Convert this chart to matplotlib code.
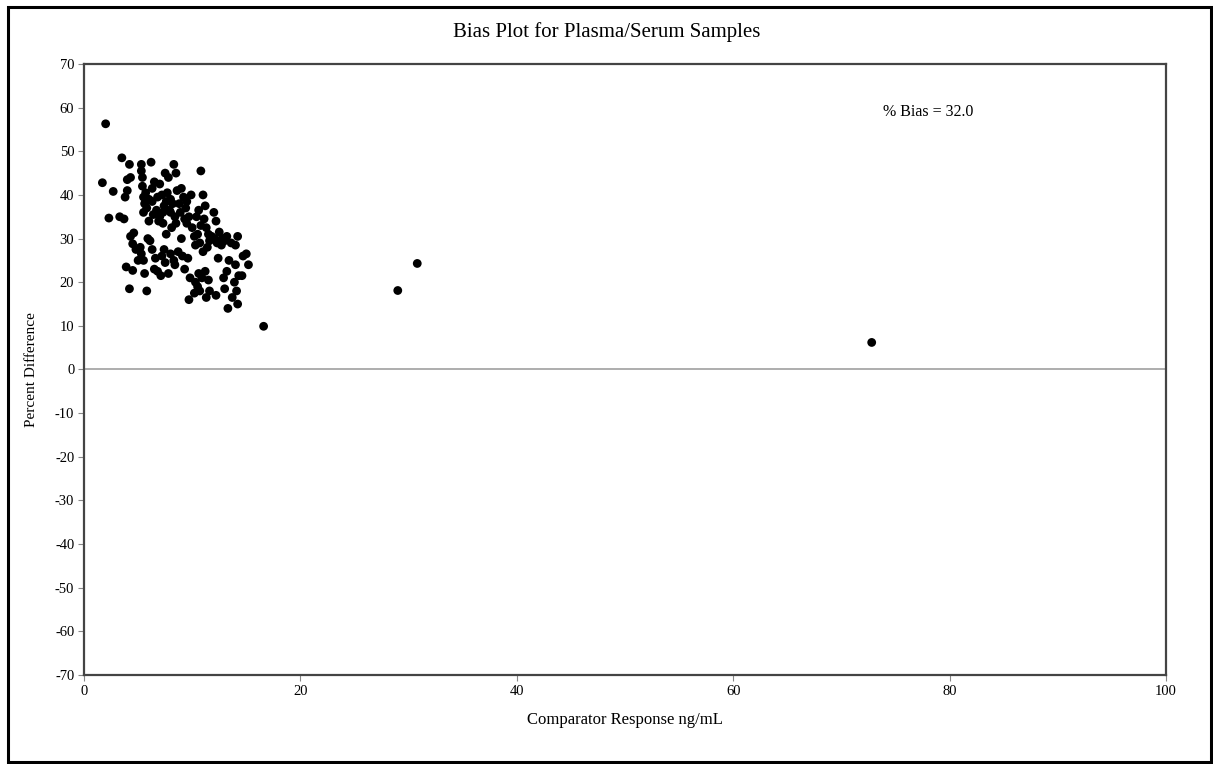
import matplotlib
matplotlib.use("Agg")
import matplotlib.pyplot as plt
from matplotlib.patches import Rectangle

plt.rcParams['font.family'] = ['Liberation Serif', 'DejaVu Serif']
plt.rcParams['axes.unicode_minus'] = False

comparator = [
    2.0, 1.7, 2.3, 2.7,
    3.5, 3.3, 3.7, 3.8, 4.0, 4.2, 4.0, 4.3, 3.9, 4.2, 4.3, 4.6, 4.5, 4.8, 5.0, 4.5,
    5.3, 5.3, 5.4, 5.4, 5.5, 5.6, 5.8, 5.5, 5.2, 5.3, 5.5, 5.6, 5.8, 5.9, 6.0, 6.2, 6.3, 6.5, 6.3, 6.7,
    6.1, 6.3, 6.6, 6.5, 6.8,
    7.0, 7.2, 7.0, 7.4, 7.5, 7.8, 7.3, 7.6, 7.4, 7.2, 7.5, 7.8, 7.1,
    8.0, 8.2, 8.0, 8.4, 8.3, 8.5, 8.6, 8.5, 8.1, 8.0, 8.3, 8.4, 8.7, 9.0,
    9.0, 9.2, 9.4, 9.3, 9.7, 9.5, 9.9, 9.1, 9.6, 9.3, 9.8, 9.7,
    10.0, 10.2, 10.3, 10.5, 10.8, 10.6, 10.4, 10.8, 10.5, 10.7, 10.3, 10.6, 10.9, 10.2, 10.7,
    11.0, 11.2, 11.1, 11.3, 11.5, 11.6, 11.4, 11.8, 11.2, 11.5, 11.6, 11.3, 11.0,
    12.0, 12.2, 12.1, 12.3, 12.5, 12.4, 12.2, 12.8, 12.7, 12.9,
    13.0, 13.2, 13.4, 13.2, 13.0, 13.3, 13.6, 13.7, 13.9, 14.0,
    14.2, 14.0, 14.3, 14.1, 14.2, 14.7, 14.6, 15.0, 15.2,
    6.8, 7.6, 7.9, 8.8, 6.0, 5.7, 6.9, 7.7, 8.9, 9.5, 6.4, 7.3,
    16.6, 29.0, 30.8, 72.8,
]
percent_diff = [
    56.3, 42.8, 34.7, 40.8,
    48.5, 35.0, 34.5, 39.5, 43.5, 47.0, 41.0, 44.0, 23.5, 18.5, 30.5, 31.3, 28.8, 27.5, 25.0, 22.7,
    47.0, 45.5, 44.0, 42.0, 39.5, 38.0, 37.0, 36.0, 28.0, 26.5, 25.0, 22.0, 18.0, 30.0, 34.0, 47.5, 41.5, 43.0, 38.5, 36.5,
    29.5, 27.5, 25.5, 23.0, 22.5,
    42.5, 40.0, 35.0, 37.5, 45.0, 44.0, 33.5, 31.0, 27.5, 26.0, 24.5, 22.0, 21.5,
    39.0, 38.0, 36.0, 35.0, 47.0, 45.0, 41.0, 33.5, 32.5, 26.5, 25.0, 24.0, 27.0, 30.0,
    41.5, 39.5, 37.0, 34.5, 35.0, 33.5, 40.0, 26.0, 25.5, 23.0, 21.0, 16.0,
    32.5, 30.5, 20.0, 19.0, 45.5, 36.5, 35.0, 33.0, 31.0, 29.0, 28.5, 22.0, 21.0, 17.5, 18.0,
    40.0, 37.5, 34.5, 32.5, 31.0, 29.5, 28.0, 30.5, 22.5, 20.5, 18.0, 16.5, 27.0,
    36.0, 34.0, 30.0, 29.0, 31.5, 25.5, 17.0, 30.0, 28.5, 21.0,
    29.5, 30.5, 25.0, 22.5, 18.5, 14.0, 29.0, 16.5, 20.0, 28.5,
    30.5, 24.0, 21.5, 18.0, 15.0, 26.0, 21.5, 26.5, 24.0,
    39.5, 38.5, 36.5, 38.0, 39.0, 40.5, 34.0, 40.5, 36.0, 38.5, 35.5, 36.0,
    9.9, 18.1, 24.3, 6.2,
]
x_ticks = [0, 20, 40, 60, 80, 100]
y_ticks = [70, 60, 50, 40, 30, 20, 10, 0, -10, -20, -30, -40, -50, -60, -70]
bias_label = "% Bias = 32.0"

W, H = 1213, 764
fig = plt.figure(figsize=(W / 100, H / 100), dpi=100)
ax = fig.add_axes([84 / W, 1 - 675 / H, (1166 - 84) / W, (675 - 64) / H])

ax.scatter(comparator, percent_diff, s=40, color='black', edgecolors='none', zorder=3)
ax.axhline(0, color='#a0a0a0', lw=1.2, zorder=1)

ax.set_xlim(0, 100)
ax.set_ylim(-70, 70)
ax.set_xticks(x_ticks)
ax.set_yticks(y_ticks)
ax.tick_params(axis='both', labelsize=10.5, length=4, width=0.8, color='#888888', pad=3)
for s in ax.spines.values():
    s.set_color('#444444')
    s.set_linewidth(1.6)

ax.set_xlabel('Comparator Response ng/mL', fontsize=12, labelpad=10)
ax.set_ylabel('Percent Difference', fontsize=11, labelpad=12)
fig.text(0.5, 1 - 32 / H, 'Bias Plot for Plasma/Serum Samples', ha='center', va='center', fontsize=15)
ax.text(73.8, 59, bias_label, ha='left', va='center', fontsize=11.5)

fig.patches.append(Rectangle((8 / W, 2 / H), (W - 10) / W, (H - 9) / H, transform=fig.transFigure,
                             fill=False, edgecolor='black', linewidth=2.2))

fig.savefig('out.png', dpi=100)
